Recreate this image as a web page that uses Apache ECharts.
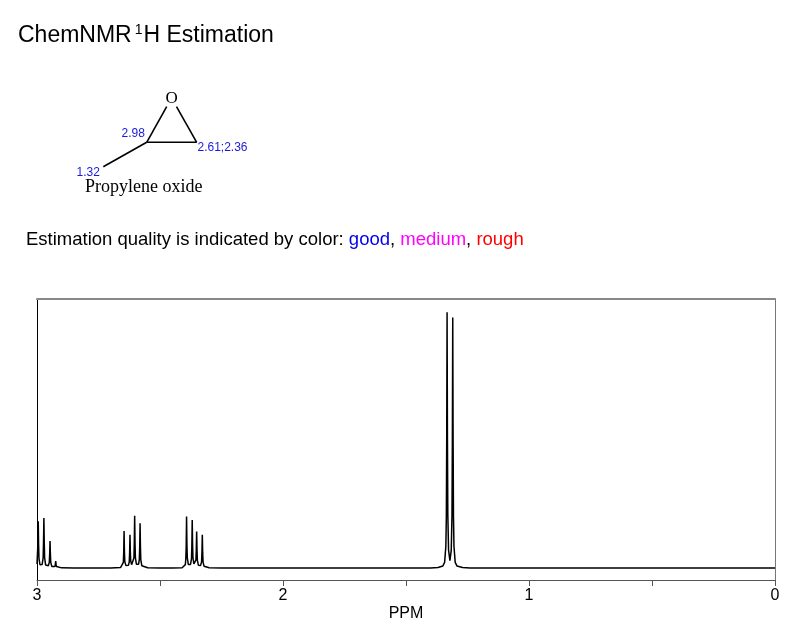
<!DOCTYPE html>
<html>
<head>
<meta charset="utf-8">
<title>ChemNMR 1H Estimation</title>
<script src="https://cdn.jsdelivr.net/npm/echarts@6/dist/echarts.min.js"></script>
<style>html,body{margin:0;padding:0;background:#fff;}</style>
</head>
<body>
<div id="main" style="width:805px;height:623px;"></div>
<script type="text/javascript">
// axis
var ppmRange = [0, 3];
var tickLabels = ['0', '1', '2', '3'];

// estimated shifts shown on the structure
var shiftLabels = ['2.98', '2.61;2.36', '1.32'];
var qualityWords = ['good', 'medium', 'rough'];
var qualityColors = ['#0000ee', '#ff00ff', '#ff0000'];

// spectrum: [ppm, intensity]
var ch298 = [[3.0, 1.5], [2.9965, 9], [2.995, 18.3], [2.9935, 9], [2.992, 3.8], [2.988, 1.3],
  [2.9835, 0.9], [2.979, 1.4], [2.975, 4], [2.9735, 10], [2.972, 19.5], [2.9705, 10], [2.969, 4],
  [2.965, 1.2], [2.9595, 0.7], [2.954, 0.9], [2.950, 2.2], [2.9485, 5.3], [2.947, 10.5],
  [2.9455, 5.3], [2.944, 2.2], [2.940, 0.6], [2.9355, 0.4], [2.927, 0.6], [2.9255, 1.4],
  [2.924, 2.7], [2.9225, 1.4], [2.921, 0.6], [2.915, 0.2], [2.90, 0.05], [2.85, 0]];
var ch261 = [[2.70, 0], [2.66, 0.2], [2.652, 0.7], [2.649, 2.2], [2.6475, 6], [2.646, 14.5],
  [2.6445, 6], [2.643, 2.5], [2.639, 1.0], [2.634, 0.8], [2.628, 1.1], [2.625, 2.4], [2.6235, 5.8],
  [2.622, 13.0], [2.6205, 6], [2.619, 2.8], [2.6155, 1.3], [2.6125, 1.2], [2.609, 1.7], [2.606, 3.9],
  [2.6045, 9.5], [2.603, 20.4], [2.6015, 9.5], [2.600, 4], [2.596, 1.5], [2.592, 1.0], [2.587, 1.5],
  [2.584, 3.4], [2.5825, 8.2], [2.581, 17.5], [2.5795, 8.2], [2.578, 3.2], [2.574, 0.9],
  [2.568, 0.4], [2.55, 0.1], [2.50, 0]];
var ch236 = [[2.45, 0], [2.41, 0.1], [2.402, 0.5], [2.397, 1.3], [2.395, 3.6], [2.3935, 8.5],
  [2.392, 20.1], [2.3905, 9], [2.389, 4], [2.385, 1.4], [2.3805, 1.0], [2.376, 1.4], [2.372, 3.6],
  [2.3705, 8.6], [2.369, 18.8], [2.3675, 9], [2.366, 4], [2.3625, 1.6], [2.360, 1.3], [2.357, 1.6],
  [2.354, 3.1], [2.3525, 7], [2.351, 14.3], [2.3495, 7], [2.348, 3], [2.344, 1.1], [2.3395, 0.8],
  [2.335, 1.0], [2.331, 2.4], [2.3295, 6], [2.328, 13.0], [2.3265, 6], [2.325, 2.3], [2.321, 0.7],
  [2.313, 0.3], [2.30, 0.1], [2.25, 0]];
var ch132 = [[1.40, 0], [1.37, 0.2], [1.35, 0.8], [1.343, 2.2], [1.338, 8.5], [1.336, 20],
  [1.3345, 50], [1.333, 100], [1.3315, 50], [1.330, 21], [1.327, 7], [1.3215, 2.9], [1.316, 7],
  [1.313, 21], [1.3115, 50], [1.310, 98], [1.3085, 50], [1.307, 20], [1.305, 8.5], [1.300, 2.2],
  [1.293, 0.8], [1.27, 0.2], [1.24, 0]];
var tail = [[0, 0]];

var spectrum = ch298.concat(ch261, ch236, ch132, tail);

var sans = 'Arial, "Liberation Sans", sans-serif';
var serif = '"Times New Roman", "Liberation Serif", serif';
var black = '#000';

var chart = echarts.init(document.getElementById('main'));

var qualityText = '{t|Estimation quality is indicated by color: }{q0|' + qualityWords[0] +
  '}{t|, }{q1|' + qualityWords[1] + '}{t|, }{q2|' + qualityWords[2] + '}';

var option = {
  animation: false,
  backgroundColor: '#fff',
  grid: { left: 37, right: 30, top: 299, bottom: 42 },
  xAxis: [
    {
      type: 'value', position: 'bottom', inverse: true,
      min: ppmRange[0], max: ppmRange[1], interval: 0.5,
      axisLine: { onZero: false, lineStyle: { color: '#555', width: 1 } },
      axisTick: { length: 6, lineStyle: { color: '#555' } },
      axisLabel: {
        margin: 8, fontSize: 16, color: black, fontFamily: sans,
        formatter: function (v) { return tickLabels.indexOf(String(v)) >= 0 ? String(v) : ''; }
      },
      splitLine: { show: false },
      name: 'PPM', nameLocation: 'middle', nameGap: 26,
      nameTextStyle: { fontSize: 16, color: black, fontFamily: sans }
    },
    {
      type: 'value', position: 'top', inverse: true,
      min: ppmRange[0], max: ppmRange[1],
      axisLine: { onZero: false, lineStyle: { color: '#888', width: 2 } },
      axisTick: { show: false }, axisLabel: { show: false }, splitLine: { show: false }
    }
  ],
  yAxis: [
    {
      type: 'value', position: 'left', min: -4.7, max: 105.2,
      axisLine: { show: true, onZero: false, lineStyle: { color: black, width: 1 } },
      axisTick: { show: false }, axisLabel: { show: false }, splitLine: { show: false }
    },
    {
      type: 'value', position: 'right', min: -4.7, max: 105.2,
      axisLine: { show: true, onZero: false, lineStyle: { color: '#777', width: 1 } },
      axisTick: { show: false }, axisLabel: { show: false }, splitLine: { show: false }
    }
  ],
  series: [
    {
      type: 'line', xAxisIndex: 0, yAxisIndex: 0,
      data: spectrum, showSymbol: false, smooth: false,
      lineStyle: { color: black, width: 1.5 }
    }
  ],
  graphic: [
    // title
    {
      type: 'text', x: 18, y: 36,
      style: {
        text: '{b|ChemNMR}{s|1}{b|H Estimation}',
        verticalAlign: 'middle', fill: black,
        rich: {
          b: { fontSize: 23, fontFamily: sans, lineHeight: 26, verticalAlign: 'middle' },
          s: { fontSize: 14, fontFamily: sans, lineHeight: 13, verticalAlign: 'top', padding: [0, 1, 0, 3] }
        }
      }
    },
    // structure: epoxide ring + methyl
    { type: 'line', shape: { x1: 166.7, y1: 106.7, x2: 146.7, y2: 142.3 }, style: { stroke: black, lineWidth: 1.6 } },
    { type: 'line', shape: { x1: 176.5, y1: 106.7, x2: 196.7, y2: 142.3 }, style: { stroke: black, lineWidth: 1.6 } },
    { type: 'line', shape: { x1: 146.7, y1: 142.3, x2: 196.7, y2: 142.3 }, style: { stroke: black, lineWidth: 1.6 } },
    { type: 'line', shape: { x1: 146.7, y1: 142.3, x2: 103.3, y2: 166.7 }, style: { stroke: black, lineWidth: 1.6 } },
    {
      type: 'text', x: 171.7, y: 99,
      style: { text: 'O', fontSize: 17, fontFamily: serif, fill: black, align: 'center', verticalAlign: 'middle' }
    },
    {
      type: 'text', x: 121.5, y: 134,
      style: { text: shiftLabels[0], fontSize: 12, fontFamily: sans, fill: '#1a1ad8', verticalAlign: 'middle' }
    },
    {
      type: 'text', x: 197.5, y: 147.5,
      style: { text: shiftLabels[1], fontSize: 12, fontFamily: sans, fill: '#1a1ad8', verticalAlign: 'middle' }
    },
    {
      type: 'text', x: 76.5, y: 173,
      style: { text: shiftLabels[2], fontSize: 12, fontFamily: sans, fill: '#1a1ad8', verticalAlign: 'middle' }
    },
    {
      type: 'text', x: 85, y: 187,
      style: { text: 'Propylene oxide', fontSize: 18, fontFamily: serif, fill: black, verticalAlign: 'middle' }
    },
    // quality legend line
    {
      type: 'text', x: 26, y: 240,
      style: {
        text: qualityText, verticalAlign: 'middle',
        rich: {
          t: { fontSize: 18.5, fontFamily: sans, fill: black },
          q0: { fontSize: 18.5, fontFamily: sans, fill: qualityColors[0] },
          q1: { fontSize: 18.5, fontFamily: sans, fill: qualityColors[1] },
          q2: { fontSize: 18.5, fontFamily: sans, fill: qualityColors[2] }
        }
      }
    }
  ]
};

chart.setOption(option);
</script>
</body>
</html>
